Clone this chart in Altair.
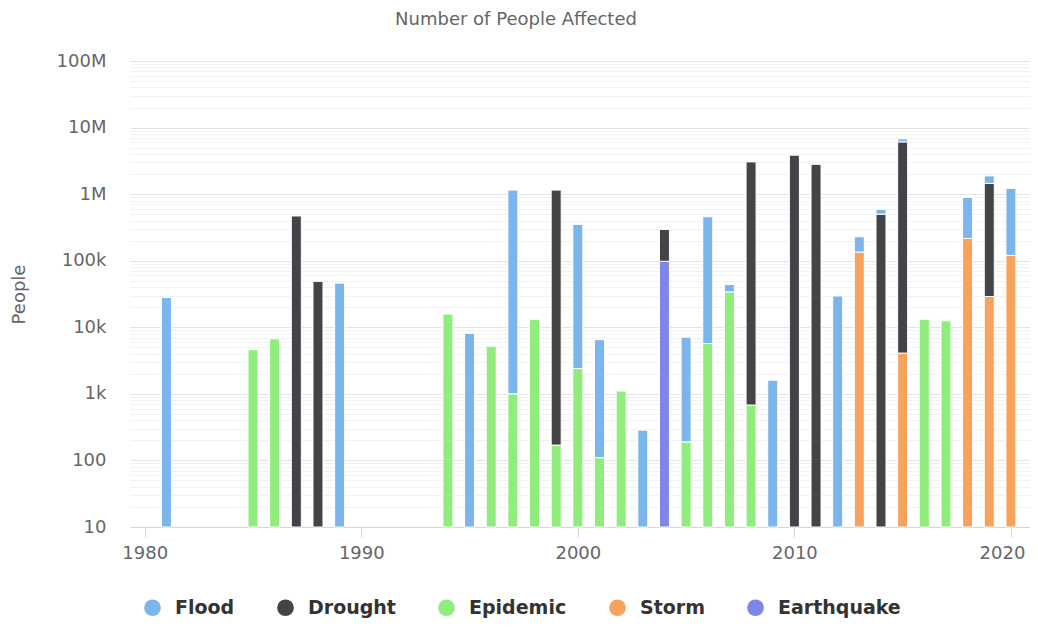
import altair as alt
import pandas as pd

# ---- data ----
TYPES = ["Flood", "Drought", "Epidemic", "Storm", "Earthquake"]
COLORS = ["#7cb5ec", "#434348", "#90ed7d", "#f7a35c", "#8085e9"]
STACK_ORDER = ["Earthquake", "Storm", "Epidemic", "Drought", "Flood"]  # bottom -> top

flood_years = [1981, 1989, 1995, 1997, 2000, 2001, 2003, 2005, 2006, 2007, 2009, 2012, 2013, 2014, 2015, 2018, 2019, 2020]
flood_vals = [28000, 46000, 8100, 1150000, 349000, 6400, 285, 6900, 451000, 10000, 1600, 29500, 94000, 90000, 670000, 674000, 430000, 1100000]

drought_years = [1987, 1988, 1999, 2004, 2008, 2010, 2011, 2014, 2015, 2019]
drought_vals = [470000, 49000, 1150000, 197000, 3049000, 3850000, 2800000, 500000, 6096000, 1421000]

epidemic_years = [1985, 1986, 1994, 1996, 1997, 1998, 1999, 2000, 2001, 2002, 2005, 2006, 2007, 2008, 2016, 2017]
epidemic_vals = [4600, 6700, 15800, 5200, 1000, 13200, 170, 2400, 110, 1100, 190, 5700, 34000, 680, 13200, 12500]

storm_years = [2013, 2015, 2018, 2019, 2020]
storm_vals = [135000, 4100, 216000, 29000, 120000]

earthquake_years = [2004]
earthquake_vals = [98000]

X_TICKS = [1980, 1990, 2000, 2010, 2020]
Y_MIN, Y_MAX = 10, 100000000

series = {
    "Flood": dict(zip(flood_years, flood_vals)),
    "Drought": dict(zip(drought_years, drought_vals)),
    "Epidemic": dict(zip(epidemic_years, epidemic_vals)),
    "Storm": dict(zip(storm_years, storm_vals)),
    "Earthquake": dict(zip(earthquake_years, earthquake_vals)),
}

rows = []
all_years = sorted(set().union(*[set(s.keys()) for s in series.values()]))
for yr in all_years:
    cum = 0
    for t in STACK_ORDER:
        v = series[t].get(yr)
        if v:
            top = cum + v
            rows.append({"year": yr, "type": t, "value": v,
                         "bottom": max(cum, Y_MIN), "top": top})
            cum = top
df = pd.DataFrame(rows)

tick_vals = []
for k in range(1, 8):
    for m in range(1, 10):
        tick_vals.append(m * 10 ** k)
tick_vals.append(10 ** 8)

decade_test = "abs(log(datum.value)/LN10 - round(log(datum.value)/LN10)) < 0.000001"
label_expr = (
    f"({decade_test}) ? (datum.value >= 1000000 ? format(datum.value/1000000,'d') + 'M' : "
    "datum.value >= 1000 ? format(datum.value/1000,'d') + 'k' : format(datum.value,'d')) : ''"
)
last_x = f"datum.value == {X_TICKS[-1]}"

chart = alt.Chart(df).mark_bar(size=10, stroke="white", strokeWidth=1).encode(
    x=alt.X(
        "year:Q",
        scale=alt.Scale(domain=[1979.55, 2020.65], nice=False, zero=False),
        axis=alt.Axis(
            values=X_TICKS, format="d", title=None, grid=False,
            domainColor="#ccd6eb", tickColor="#ccd6eb", tickSize=10, labelFlush=False,
            labelAlign={"condition": {"test": last_x, "value": "right"}, "value": "center"},
            labelOffset={"condition": {"test": last_x, "value": 14}, "value": 0},
            labelColor="#666666", labelFontSize=18, labelFont="DejaVu Sans", labelPadding=7,
        ),
    ),
    y=alt.Y(
        "top:Q",
        scale=alt.Scale(type="log", domain=[Y_MIN, Y_MAX], nice=False),
        axis=alt.Axis(
            values=tick_vals, labelExpr=label_expr, title="People",
            domain=False, ticks=False, labelPadding=24,
            gridColor={"condition": {"test": decade_test, "value": "#e3e3e3"}, "value": "#f2f2f2"},
            labelColor="#666666", labelFontSize=18, labelFont="DejaVu Sans",
            titleColor="#666666", titleFontSize=18, titleFont="DejaVu Sans",
            titleFontWeight="normal", titlePadding=28, labelOverlap=False,
        ),
    ),
    y2="bottom:Q",
    color=alt.Color(
        "type:N",
        scale=alt.Scale(domain=TYPES, range=COLORS),
        legend=alt.Legend(
            title=None, orient="none", direction="horizontal", legendX=13, legendY=537,
            symbolType="circle", symbolSize=280, symbolStrokeWidth=0, symbolOpacity=1,
            labelFont="DejaVu Sans", labelFontSize=19, labelFontWeight="bold",
            labelColor="#333333", labelOffset=13, columnPadding=41, padding=0,
        ),
    ),
).properties(
    width=900,
    height=466,
    title=alt.TitleParams(
        "Number of People Affected", font="DejaVu Sans", fontSize=18,
        fontWeight="normal", color="#666666", anchor="middle", dx=-64, offset=23,
    ),
    autosize=alt.AutoSizeParams(type="none"),
    padding={"left": 122, "top": 53, "right": 0, "bottom": 92},
).configure_view(stroke=None)

chart.save("out.html", embed_options={"renderer": "svg", "actions": False})
